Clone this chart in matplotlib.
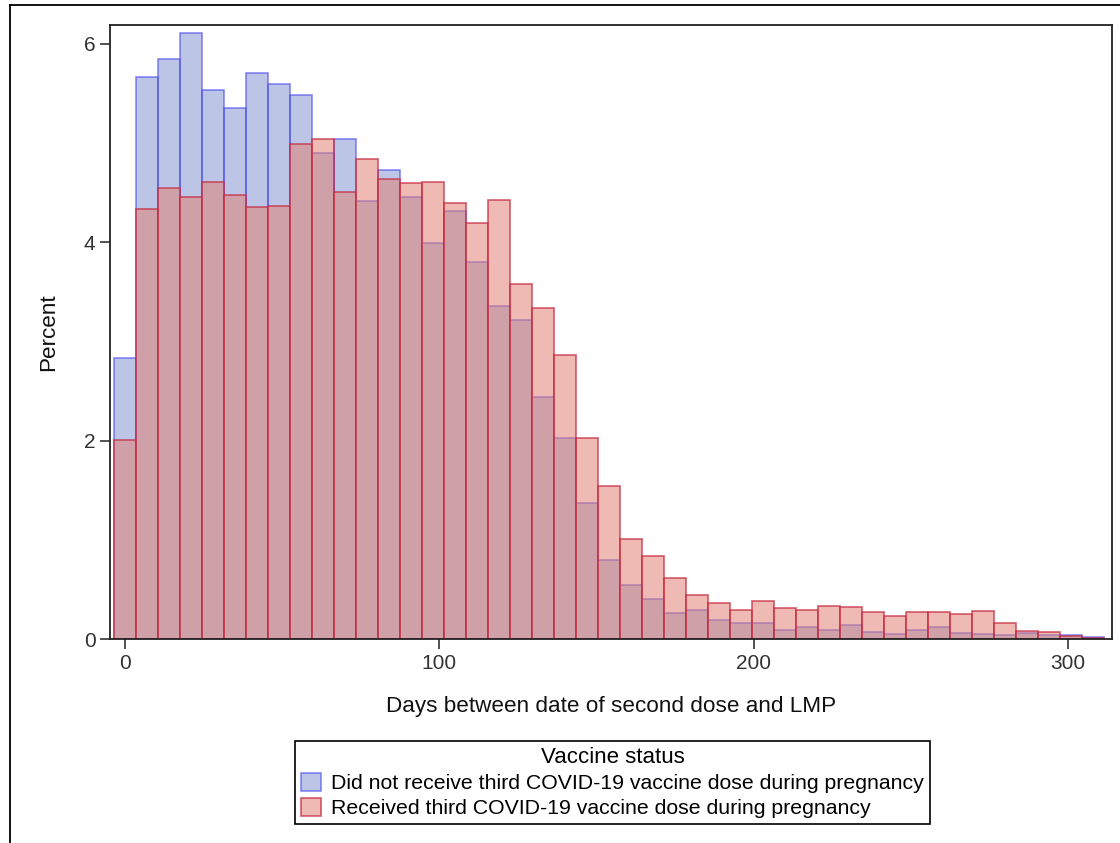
import numpy as np
import matplotlib
matplotlib.use("Agg")
import matplotlib.pyplot as plt
from matplotlib.lines import Line2D
from matplotlib.patches import Patch

plt.rcParams["font.family"] = ["Liberation Sans", "DejaVu Sans"]

# bin centres (days), bin width 7
bin_width = 7
days = np.arange(0, 309, bin_width)

# percent per bin, not boosted during pregnancy
pct_no_third = [
    2.83, 5.67, 5.85, 6.11, 5.53, 5.35, 5.71, 5.60, 5.48, 4.90,
    5.04, 4.42, 4.73, 4.46, 3.99, 4.32, 3.80, 3.36, 3.22, 2.44,
    2.03, 1.37, 0.80, 0.55, 0.41, 0.26, 0.30, 0.19, 0.16, 0.16,
    0.09, 0.12, 0.09, 0.14, 0.07, 0.05, 0.09, 0.12, 0.06, 0.05,
    0.04, 0.06, 0.04, 0.04, 0.02,
]

# percent per bin, boosted during pregnancy
pct_third = [
    2.01, 4.34, 4.55, 4.46, 4.61, 4.48, 4.36, 4.37, 4.99, 5.04,
    4.51, 4.84, 4.64, 4.60, 4.61, 4.40, 4.19, 4.43, 3.58, 3.34,
    2.86, 2.03, 1.54, 1.01, 0.84, 0.62, 0.45, 0.37, 0.30, 0.39,
    0.32, 0.30, 0.34, 0.33, 0.28, 0.23, 0.28, 0.28, 0.25, 0.29,
    0.16, 0.08, 0.07, 0.03, 0.01,
]

legend_labels = [
    "Did not receive third COVID-19 vaccine dose during pregnancy",
    "Received third COVID-19 vaccine dose during pregnancy",
]

blue_face = (0.42, 0.50, 0.78, 0.45)
blue_edge = (0.30, 0.30, 0.95, 0.65)
red_face = (0.88, 0.51, 0.46, 0.55)
red_edge = (0.78, 0.16, 0.25, 0.75)

fig = plt.figure(figsize=(11.2, 8.43), dpi=100)
ax = fig.add_axes([110 / 1120, 1 - 639.3 / 843, 1002 / 1120, (639.3 - 25) / 843])

ax.bar(days, pct_no_third, width=bin_width, color=blue_face, edgecolor=blue_edge, linewidth=1.2)
ax.bar(days, pct_third, width=bin_width, color=red_face, edgecolor=red_edge, linewidth=1.2)

ax.set_xlim(-4.8, 314)
ax.set_ylim(0, 6.19)
ax.set_xticks([0, 100, 200, 300])
ax.set_yticks([0, 2, 4, 6])
ax.tick_params(labelsize=15, length=7, width=1.2, color="#333333", labelcolor="#333333")
for s in ax.spines.values():
    s.set_linewidth(1.3)
    s.set_color("#222222")

ax.set_xlabel("Days between date of second dose and LMP", fontsize=16.2, labelpad=17, color="#111111")
ax.set_ylabel("Percent", fontsize=16.2, labelpad=18, color="#111111")

handles = [
    Patch(facecolor=blue_face, edgecolor=blue_edge, linewidth=1.2),
    Patch(facecolor=red_face, edgecolor=red_edge, linewidth=1.2),
]
leg = fig.legend(
    handles, legend_labels, title="Vaccine status", loc="upper center",
    bbox_to_anchor=(612.7 / 1120, 1 - 741 / 843), fontsize=15.3, title_fontsize=16,
    fancybox=False, edgecolor="black", framealpha=1, handlelength=0.9, handleheight=0.9,
    handletextpad=0.5, borderpad=0.3, labelspacing=0.22, borderaxespad=0,
)
leg.get_frame().set_linewidth(1.2)

# outer frame of the page
fig.add_artist(Line2D([10 / 1120, 1], [1 - 5 / 843, 1 - 5 / 843], transform=fig.transFigure, color="black", lw=1.3))
fig.add_artist(Line2D([10 / 1120, 10 / 1120], [0, 1 - 5 / 843], transform=fig.transFigure, color="black", lw=1.3))

fig.savefig("out.png", dpi=100)
